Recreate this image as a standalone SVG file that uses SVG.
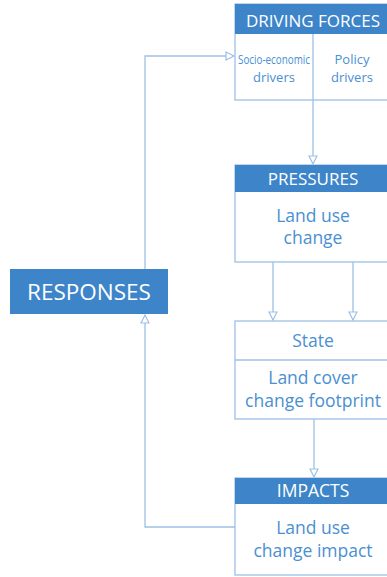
<svg xmlns="http://www.w3.org/2000/svg" width="387" height="577" viewBox="0 0 387 577">
<defs>
<style>
.box{fill:#fff;stroke:#9dc0e6;stroke-width:1.3}
.hdr{fill:#3d85c8}
.ht{font-family:"Open Sans",sans-serif;fill:#fff;text-anchor:middle}
.bt{font-family:"Open Sans",sans-serif;fill:#4a8fd2;text-anchor:middle}
.ln{fill:none;stroke:#9dc0e6;stroke-width:1.3}
</style>
<marker id="ah" markerWidth="12" markerHeight="12" refX="9" refY="5" orient="auto" markerUnits="userSpaceOnUse">
<path d="M1,1 L9,5 L1,9 Z" fill="#fff" stroke="#9dc0e6" stroke-width="1.2"/>
</marker>
</defs>
<rect width="387" height="577" fill="#fff"/>
<g id="connectors">
<path class="ln" d="M313,100 V164" marker-end="url(#ah)"/>
<path class="ln" d="M273,262 V320" marker-end="url(#ah)"/>
<path class="ln" d="M353,262 V320" marker-end="url(#ah)"/>
<path class="ln" d="M314,419 V477" marker-end="url(#ah)"/>
<path class="ln" d="M145,269 V56 H234" marker-end="url(#ah)"/>
<path class="ln" d="M235,527 H145 V315" marker-end="url(#ah)"/>
</g>
<g id="driving-forces">
<rect class="box" x="235" y="4" width="156" height="96"/>
<rect class="hdr" x="235" y="4" width="156" height="30"/>
<line class="ln" x1="313" y1="34" x2="313" y2="100"/>
<text class="ht" x="313" y="27" font-size="17">DRIVING FORCES</text>
<text class="bt" x="274" y="64" font-size="13" textLength="72" lengthAdjust="spacingAndGlyphs">Socio-economic</text>
<text class="bt" x="274" y="82" font-size="13">drivers</text>
<text class="bt" x="352" y="64" font-size="13">Policy</text>
<text class="bt" x="352" y="82" font-size="13">drivers</text>
</g>
<g id="pressures">
<rect class="box" x="235" y="165" width="156" height="97"/>
<rect class="hdr" x="235" y="165" width="156" height="27"/>
<text class="ht" x="313" y="185" font-size="17">PRESSURES</text>
<text class="bt" x="313" y="222" font-size="17.5">Land use</text>
<text class="bt" x="313" y="244" font-size="17.5">change</text>
</g>
<g id="state">
<rect class="box" x="235" y="321" width="156" height="98"/>
<line class="ln" x1="235" y1="360" x2="391" y2="360"/>
<text class="bt" x="313" y="347" font-size="17.5">State</text>
<text class="bt" x="313" y="384" font-size="17.5">Land cover</text>
<text class="bt" x="313" y="407" font-size="17.5">change footprint</text>
</g>
<g id="impacts">
<rect class="box" x="235" y="478" width="156" height="97"/>
<rect class="hdr" x="235" y="478" width="156" height="26"/>
<text class="ht" x="313" y="497" font-size="17.5">IMPACTS</text>
<text class="bt" x="313" y="534" font-size="17.5">Land use</text>
<text class="bt" x="313" y="557" font-size="17.5">change impact</text>
</g>
<g id="responses">
<rect class="hdr" x="10" y="269" width="158" height="45"/>
<text class="ht" x="89" y="300" font-size="22.5">RESPONSES</text>
</g>
</svg>
